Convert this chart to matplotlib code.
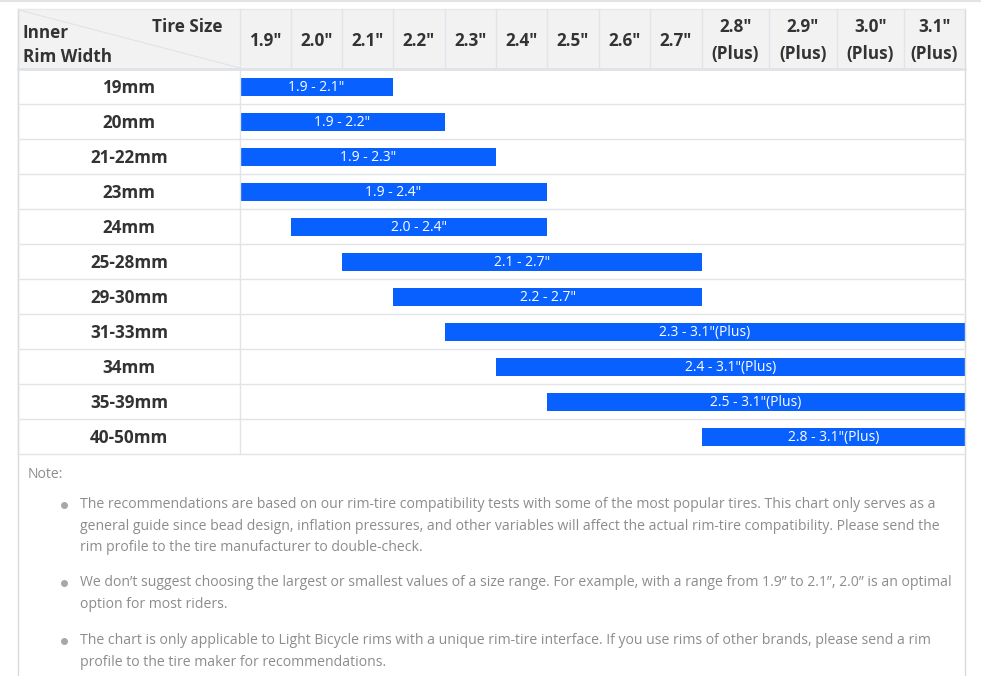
import numpy as np
import matplotlib.pyplot as plt
from matplotlib.patches import Rectangle

plt.rcParams['font.family'] = ['Open Sans', 'DejaVu Sans']

tire_sizes = ['1.9"', '2.0"', '2.1"', '2.2"', '2.3"', '2.4"', '2.5"', '2.6"', '2.7"',
              '2.8"\n(Plus)', '2.9"\n(Plus)', '3.0"\n(Plus)', '3.1"\n(Plus)']
size_values = [1.9, 2.0, 2.1, 2.2, 2.3, 2.4, 2.5, 2.6, 2.7, 2.8, 2.9, 3.0, 3.1]
rim_widths = ['19mm', '20mm', '21-22mm', '23mm', '24mm', '25-28mm', '29-30mm',
              '31-33mm', '34mm', '35-39mm', '40-50mm']
range_lo = [1.9, 1.9, 1.9, 1.9, 2.0, 2.1, 2.2, 2.3, 2.4, 2.5, 2.8]
range_hi = [2.1, 2.2, 2.3, 2.4, 2.4, 2.7, 2.7, 3.1, 3.1, 3.1, 3.1]

notes = [
    "The recommendations are based on our rim-tire compatibility tests with some of the most popular tires. This chart only serves as a\n"
    "general guide since bead design, inflation pressures, and other variables will affect the actual rim-tire compatibility. Please send the\n"
    "rim profile to the tire manufacturer to double-check.",
    "We don\u2019t suggest choosing the largest or smallest values of a size range. For example, with a range from 1.9\u201d to 2.1\u201d, 2.0\u201d is an optimal\n"
    "option for most riders.",
    "The chart is only applicable to Light Bicycle rims with a unique rim-tire interface. If you use rims of other brands, please send a rim\n"
    "profile to the tire maker for recommendations.",
]

# layout in pixels
W, H = 981, 676
left, first_col = 18, 240
col_edges = np.array([240, 291, 342, 393, 445, 496, 547, 599, 650, 702, 769, 837, 904, 965])
top, head_bot = 9, 69
row_h = 35
grid_c = '#e1e4e8'
blue = '#0860ff'
dark = '#333333'
fs_head = 12.3

fig = plt.figure(figsize=(W / 100, H / 100), dpi=100)
ax = fig.add_axes([0, 0, 1, 1])
ax.set_xlim(0, W)
ax.set_ylim(H, 0)
ax.axis('off')

# page top line
ax.plot([0, W], [0.8, 0.8], color='#e3e3e3', lw=1.5)

# header
right = col_edges[-1]
ax.add_patch(Rectangle((left, top), right - left, head_bot - top, fc='#f2f2f2', ec='none'))
ax.plot([left + 1, first_col], [top + 1, head_bot - 1], color='#e0e3e8', lw=0.8)
ax.text(23, 33.5, 'Inner', ha='left', va='center', fontsize=fs_head, weight='bold', color=dark)
ax.text(23, 56.5, 'Rim Width', ha='left', va='center', fontsize=fs_head, weight='bold', color=dark)
ax.text(222, 27, 'Tire Size', ha='right', va='center', fontsize=fs_head, weight='bold', color=dark)

for i, lab in enumerate(tire_sizes):
    cx = (col_edges[i] + col_edges[i + 1]) / 2
    ax.text(cx, 40.5, lab, ha='center', va='center', fontsize=fs_head, weight='bold',
            color=dark, linespacing=1.6)

# vertical lines
for x in [left, first_col] + list(col_edges[1:-1]):
    y1 = head_bot if x in col_edges[1:-1] else head_bot + row_h * len(rim_widths)
    ax.plot([x, x], [top, y1], color=grid_c, lw=1)
ax.plot([right, right], [top, H], color='#d8dbe0', lw=1)
ax.plot([left, left], [top, H], color='#d8dbe0', lw=1)
ax.plot([left, right], [top, top], color='#e6e8eb', lw=1)
ax.plot([left, right], [head_bot, head_bot], color='#dfe2e6', lw=2)

# rows and bars
def size_to_x(v, edge):
    idx = size_values.index(v)
    return col_edges[idx + edge]

for r, rim in enumerate(rim_widths):
    y0 = head_bot + r * row_h
    yc = y0 + row_h / 2
    ax.plot([left, right], [y0 + row_h, y0 + row_h], color=grid_c, lw=1)
    ax.text((left + first_col) / 2, yc + 1.5, rim, ha='center', va='center', fontsize=fs_head,
            weight='bold', color=dark)
    x0 = size_to_x(range_lo[r], 0)
    x1 = size_to_x(range_hi[r], 1)
    ax.barh(yc, x1 - x0, left=x0, height=18, color=blue)
    lab = f'{range_lo[r]} - {range_hi[r]}"'
    if range_hi[r] >= 2.8:
        lab += '(Plus)'
    ax.text((x0 + x1) / 2, yc + 0.8, lab, ha='center', va='center', fontsize=10, color='white')

# notes
note_c = '#8c8c8c'
ax.text(28, 475, 'Note:', ha='left', va='center', fontsize=10.05, color=note_c)
note_y = [505, 583, 641]
for y, txt in zip(note_y, notes):
    ax.plot(64, y, 'o', ms=4, color='#a8a8a8')
    ax.text(80, y - 8, txt, ha='left', va='top', fontsize=10.05, color=note_c, linespacing=1.6)

fig.savefig('out.png', dpi=100)
